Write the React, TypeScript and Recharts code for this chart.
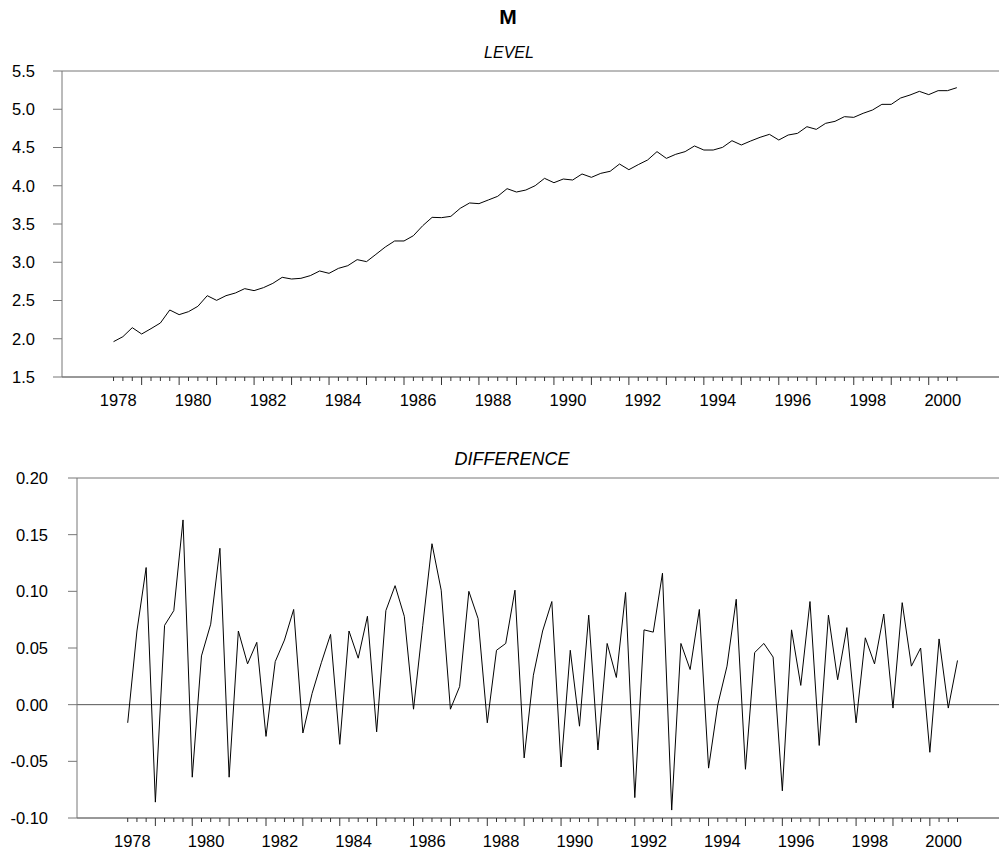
import { LineChart, Line, XAxis, YAxis, ReferenceLine } from 'recharts';

const FONT = 'Arial, "Liberation Sans", Helvetica, sans-serif';

// quarterly observations, index 0 = first quarter shown
const level = [
  1.962, 2.027, 2.145, 2.062, 2.132, 2.206, 2.376, 2.315, 2.354, 2.424,
  2.563, 2.502, 2.563, 2.598, 2.655, 2.629, 2.668, 2.724, 2.803, 2.781,
  2.79, 2.825, 2.886, 2.855, 2.92, 2.955, 3.034, 3.008, 3.103, 3.199,
  3.278, 3.278, 3.347, 3.478, 3.587, 3.583, 3.6, 3.705, 3.775, 3.766,
  3.814, 3.862, 3.962, 3.918, 3.944, 4.001, 4.097, 4.04, 4.088, 4.075,
  4.154, 4.11, 4.162, 4.189, 4.284, 4.21, 4.276, 4.337, 4.446, 4.358,
  4.411, 4.446, 4.52, 4.467, 4.467, 4.502, 4.589, 4.533, 4.585, 4.633,
  4.672, 4.598, 4.663, 4.685, 4.772, 4.737, 4.816, 4.842, 4.903, 4.894,
  4.947, 4.99, 5.064, 5.064, 5.147, 5.186, 5.234, 5.191, 5.243, 5.243,
  5.282,
];

const difference = [
  -0.016, 0.065, 0.121, -0.086, 0.07, 0.083, 0.163, -0.064, 0.043, 0.071,
  0.138, -0.064, 0.065, 0.036, 0.055, -0.028, 0.038, 0.057, 0.084, -0.025,
  0.01, 0.037, 0.062, -0.035, 0.065, 0.041, 0.078, -0.024, 0.083, 0.105,
  0.078, -0.004, 0.07, 0.142, 0.101, -0.004, 0.016, 0.1, 0.076, -0.016,
  0.048, 0.054, 0.101, -0.047, 0.026, 0.065, 0.091, -0.055, 0.048, -0.019,
  0.079, -0.04, 0.054, 0.024, 0.099, -0.082, 0.066, 0.064, 0.116, -0.093,
  0.054, 0.031, 0.084, -0.056, 0.0, 0.034, 0.093, -0.057, 0.046, 0.054,
  0.042, -0.076, 0.066, 0.017, 0.091, -0.036, 0.079, 0.022, 0.068, -0.016,
  0.059, 0.036, 0.08, -0.003, 0.09, 0.034, 0.05, -0.042, 0.058, -0.003,
  0.039,
];

const yearLabels = ['1978', '1980', '1982', '1984', '1986', '1988', '1990', '1992', '1994', '1996', '1998', '2000'];
const levelTicks = [1.5, 2.0, 2.5, 3.0, 3.5, 4.0, 4.5, 5.0, 5.5];
const diffTicks = [-0.1, -0.05, 0, 0.05, 0.1, 0.15, 0.2];

const data = level.map((v, i) => ({ t: i, level: v, diff: difference[i] }));

// one tick per quarter, plus label positions between them
const quarterTicks = level.map((_, i) => i);
const labelTicks = yearLabels.map((_, k) => k * 8 + 0.5);
const xTicks = [...quarterTicks, ...labelTicks];

const AXIS = '#777';

function QuarterTick(props: any) {
  const { x, y, payload } = props;
  const v = payload.value as number;
  if (!Number.isInteger(v)) {
    const label = yearLabels[Math.round((v - 0.5) / 8)];
    return (
      <text x={x} y={y + 23} textAnchor="middle" dominantBaseline="central" fontSize={16.5} fontFamily={FONT} fill="#000">
        {label}
      </text>
    );
  }
  const major = v % 4 === 3;
  return <line x1={x} x2={x} y1={y} y2={y + (major ? 8 : 4)} stroke="#333" strokeWidth={1} />;
}

export default function App() {
  return (
    <div style={{ position: 'absolute', left: 0, top: 0, width: 999, height: 853, background: '#fff', fontFamily: FONT }}>
      <svg width={999} height={853} style={{ position: 'absolute', left: 0, top: 0 }}>
        <text x={508} y={16} textAnchor="middle" dominantBaseline="central" fontSize={21} fontWeight="bold" fontFamily={FONT}>
          M
        </text>
        <text x={509} y={52} textAnchor="middle" dominantBaseline="central" fontSize={16} fontStyle="italic" fontFamily={FONT}>
          LEVEL
        </text>
        <text x={512} y={459} textAnchor="middle" dominantBaseline="central" fontSize={18} fontStyle="italic" fontFamily={FONT}>
          DIFFERENCE
        </text>
      </svg>

      <div style={{ position: 'absolute', left: 0, top: 0 }}>
        <LineChart width={999} height={430} data={data} margin={{ top: 71, right: 0, bottom: 23, left: 0 }}>
          <XAxis
            dataKey="t"
            type="number"
            domain={[-5.5, 94.5]}
            ticks={xTicks}
            interval={0}
            height={30}
            tickSize={0}
            tickMargin={0}
            tickLine={false}
            axisLine={{ stroke: '#333' }}
            tick={<QuarterTick />}
          />
          <YAxis
            type="number"
            domain={[1.5, 5.5]}
            ticks={levelTicks}
            interval={0}
            width={62}
            tickSize={9}
            tickMargin={18}
            axisLine={{ stroke: AXIS }}
            tickLine={{ stroke: AXIS }}
            tickFormatter={(v: number) => v.toFixed(1)}
            tick={{ fontSize: 16.5, fill: '#000', fontFamily: FONT }}
          />
          <ReferenceLine y={5.5} stroke={AXIS} />
          <Line type="linear" dataKey="level" stroke="#000" strokeWidth={1} dot={false} isAnimationActive={false} />
        </LineChart>
      </div>

      <div style={{ position: 'absolute', left: 0, top: 430 }}>
        <LineChart width={999} height={423} data={data} margin={{ top: 48, right: 0, bottom: 5, left: 0 }}>
          <XAxis
            dataKey="t"
            type="number"
            domain={[-5.5, 94.5]}
            ticks={xTicks}
            interval={0}
            height={30}
            tickSize={0}
            tickMargin={0}
            tickLine={false}
            axisLine={{ stroke: '#333' }}
            tick={<QuarterTick />}
          />
          <YAxis
            type="number"
            domain={[-0.1, 0.2]}
            ticks={diffTicks}
            interval={0}
            width={77}
            tickSize={9}
            tickMargin={20}
            axisLine={{ stroke: AXIS }}
            tickLine={{ stroke: AXIS }}
            tickFormatter={(v: number) => v.toFixed(2)}
            tick={{ fontSize: 16.5, fill: '#000', fontFamily: FONT }}
          />
          <ReferenceLine y={0.2} stroke={AXIS} />
          <ReferenceLine y={0} stroke="#555" />
          <Line type="linear" dataKey="diff" stroke="#000" strokeWidth={1} dot={false} isAnimationActive={false} />
        </LineChart>
      </div>
    </div>
  );
}
